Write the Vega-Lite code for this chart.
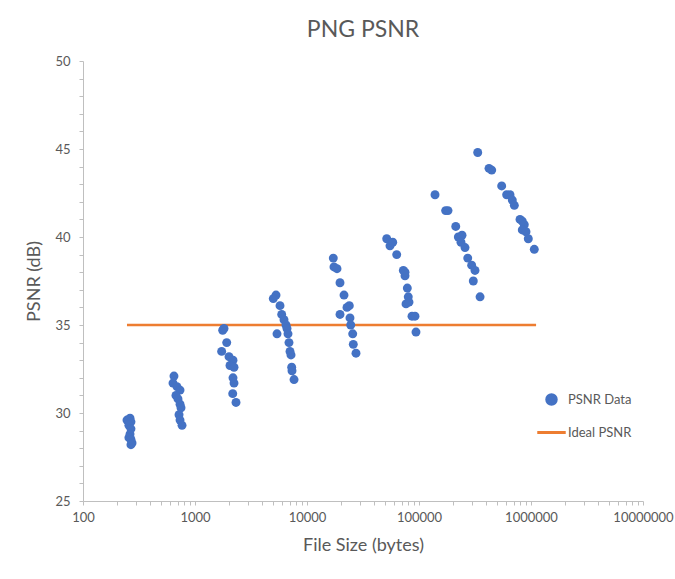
{
  "$schema": "https://vega.github.io/schema/vega-lite/v6.json",
  "autosize": "none",
  "width": 560,
  "height": 440,
  "padding": {"left": 83, "top": 61, "right": 32, "bottom": 78},
  "background": "white",
  "title": {"text": "PNG PSNR", "fontSize": 23, "font": "Lato", "fontWeight": "normal", "color": "#595959", "anchor": "middle", "offset": 13},
  "config": {
    "view": {"stroke": null},
    "axis": {"grid": false, "domainColor": "#bfbfbf", "tickColor": "#bfbfbf", "labelColor": "#595959", "titleColor": "#595959", "labelFont": "Lato", "titleFont": "Lato", "labelFontSize": 13, "titleFontSize": 18, "titleFontWeight": "normal", "tickSize": 4, "labelOverlap": false}
  },
  "datasets": {
    "pts": [
      {"size": 247, "psnr": 29.6, "series": "PSNR Data"},
      {"size": 263, "psnr": 29.7, "series": "PSNR Data"},
      {"size": 268, "psnr": 29.5, "series": "PSNR Data"},
      {"size": 257, "psnr": 29.3, "series": "PSNR Data"},
      {"size": 268, "psnr": 29.1, "series": "PSNR Data"},
      {"size": 263, "psnr": 28.8, "series": "PSNR Data"},
      {"size": 257, "psnr": 28.6, "series": "PSNR Data"},
      {"size": 268, "psnr": 28.5, "series": "PSNR Data"},
      {"size": 274, "psnr": 28.3, "series": "PSNR Data"},
      {"size": 268, "psnr": 28.2, "series": "PSNR Data"},
      {"size": 649, "psnr": 32.1, "series": "PSNR Data"},
      {"size": 636, "psnr": 31.7, "series": "PSNR Data"},
      {"size": 690, "psnr": 31.5, "series": "PSNR Data"},
      {"size": 735, "psnr": 31.3, "series": "PSNR Data"},
      {"size": 676, "psnr": 31.0, "series": "PSNR Data"},
      {"size": 705, "psnr": 30.8, "series": "PSNR Data"},
      {"size": 735, "psnr": 30.5, "series": "PSNR Data"},
      {"size": 750, "psnr": 30.3, "series": "PSNR Data"},
      {"size": 720, "psnr": 29.9, "series": "PSNR Data"},
      {"size": 735, "psnr": 29.6, "series": "PSNR Data"},
      {"size": 766, "psnr": 29.3, "series": "PSNR Data"},
      {"size": 1767, "psnr": 34.7, "series": "PSNR Data"},
      {"size": 1815, "psnr": 34.8, "series": "PSNR Data"},
      {"size": 1919, "psnr": 34.0, "series": "PSNR Data"},
      {"size": 1730, "psnr": 33.5, "series": "PSNR Data"},
      {"size": 2012, "psnr": 33.2, "series": "PSNR Data"},
      {"size": 2184, "psnr": 33.0, "series": "PSNR Data"},
      {"size": 2053, "psnr": 32.7, "series": "PSNR Data"},
      {"size": 2230, "psnr": 32.6, "series": "PSNR Data"},
      {"size": 2184, "psnr": 32.0, "series": "PSNR Data"},
      {"size": 2230, "psnr": 31.7, "series": "PSNR Data"},
      {"size": 2172, "psnr": 31.1, "series": "PSNR Data"},
      {"size": 2323, "psnr": 30.6, "series": "PSNR Data"},
      {"size": 5290, "psnr": 36.7, "series": "PSNR Data"},
      {"size": 5000, "psnr": 36.5, "series": "PSNR Data"},
      {"size": 5740, "psnr": 36.1, "series": "PSNR Data"},
      {"size": 5945, "psnr": 35.6, "series": "PSNR Data"},
      {"size": 6233, "psnr": 35.3, "series": "PSNR Data"},
      {"size": 6493, "psnr": 35.0, "series": "PSNR Data"},
      {"size": 6628, "psnr": 34.8, "series": "PSNR Data"},
      {"size": 5397, "psnr": 34.5, "series": "PSNR Data"},
      {"size": 6765, "psnr": 34.5, "series": "PSNR Data"},
      {"size": 6905, "psnr": 34.0, "series": "PSNR Data"},
      {"size": 7050, "psnr": 33.5, "series": "PSNR Data"},
      {"size": 7197, "psnr": 33.3, "series": "PSNR Data"},
      {"size": 7300, "psnr": 32.6, "series": "PSNR Data"},
      {"size": 7347, "psnr": 32.4, "series": "PSNR Data"},
      {"size": 7660, "psnr": 31.9, "series": "PSNR Data"},
      {"size": 17170, "psnr": 38.8, "series": "PSNR Data"},
      {"size": 17410, "psnr": 38.3, "series": "PSNR Data"},
      {"size": 18530, "psnr": 38.2, "series": "PSNR Data"},
      {"size": 19710, "psnr": 37.4, "series": "PSNR Data"},
      {"size": 21400, "psnr": 36.7, "series": "PSNR Data"},
      {"size": 23860, "psnr": 36.1, "series": "PSNR Data"},
      {"size": 22750, "psnr": 36.0, "series": "PSNR Data"},
      {"size": 19710, "psnr": 35.6, "series": "PSNR Data"},
      {"size": 24200, "psnr": 35.4, "series": "PSNR Data"},
      {"size": 24560, "psnr": 35.0, "series": "PSNR Data"},
      {"size": 25590, "psnr": 34.5, "series": "PSNR Data"},
      {"size": 25900, "psnr": 33.9, "series": "PSNR Data"},
      {"size": 27380, "psnr": 33.4, "series": "PSNR Data"},
      {"size": 51500, "psnr": 39.9, "series": "PSNR Data"},
      {"size": 55070, "psnr": 39.5, "series": "PSNR Data"},
      {"size": 58250, "psnr": 39.7, "series": "PSNR Data"},
      {"size": 63230, "psnr": 39.0, "series": "PSNR Data"},
      {"size": 72450, "psnr": 38.1, "series": "PSNR Data"},
      {"size": 74990, "psnr": 37.8, "series": "PSNR Data"},
      {"size": 74990, "psnr": 38.0, "series": "PSNR Data"},
      {"size": 78660, "psnr": 37.1, "series": "PSNR Data"},
      {"size": 80200, "psnr": 36.6, "series": "PSNR Data"},
      {"size": 76560, "psnr": 36.2, "series": "PSNR Data"},
      {"size": 81420, "psnr": 36.3, "series": "PSNR Data"},
      {"size": 86600, "psnr": 35.5, "series": "PSNR Data"},
      {"size": 92090, "psnr": 35.5, "series": "PSNR Data"},
      {"size": 93970, "psnr": 34.6, "series": "PSNR Data"},
      {"size": 139000, "psnr": 42.4, "series": "PSNR Data"},
      {"size": 172900, "psnr": 41.5, "series": "PSNR Data"},
      {"size": 181500, "psnr": 41.5, "series": "PSNR Data"},
      {"size": 212800, "psnr": 40.6, "series": "PSNR Data"},
      {"size": 224500, "psnr": 40.0, "series": "PSNR Data"},
      {"size": 242100, "psnr": 40.1, "series": "PSNR Data"},
      {"size": 237100, "psnr": 39.7, "series": "PSNR Data"},
      {"size": 257500, "psnr": 39.4, "series": "PSNR Data"},
      {"size": 272300, "psnr": 38.8, "series": "PSNR Data"},
      {"size": 295300, "psnr": 38.4, "series": "PSNR Data"},
      {"size": 316200, "psnr": 38.1, "series": "PSNR Data"},
      {"size": 305400, "psnr": 37.5, "series": "PSNR Data"},
      {"size": 350900, "psnr": 36.6, "series": "PSNR Data"},
      {"size": 334400, "psnr": 44.8, "series": "PSNR Data"},
      {"size": 421700, "psnr": 43.9, "series": "PSNR Data"},
      {"size": 445800, "psnr": 43.8, "series": "PSNR Data"},
      {"size": 547400, "psnr": 42.9, "series": "PSNR Data"},
      {"size": 606400, "psnr": 42.4, "series": "PSNR Data"},
      {"size": 649400, "psnr": 42.4, "series": "PSNR Data"},
      {"size": 680800, "psnr": 42.1, "series": "PSNR Data"},
      {"size": 709900, "psnr": 41.8, "series": "PSNR Data"},
      {"size": 797500, "psnr": 41.0, "series": "PSNR Data"},
      {"size": 836100, "psnr": 40.9, "series": "PSNR Data"},
      {"size": 871000, "psnr": 40.7, "series": "PSNR Data"},
      {"size": 836100, "psnr": 40.4, "series": "PSNR Data"},
      {"size": 902500, "psnr": 40.3, "series": "PSNR Data"},
      {"size": 946000, "psnr": 39.9, "series": "PSNR Data"},
      {"size": 1070000, "psnr": 39.3, "series": "PSNR Data"}
    ],
    "ideal": [
      {"size": 247, "psnr": 35, "series": "Ideal PSNR"},
      {"size": 1110000, "psnr": 35, "series": "Ideal PSNR"}
    ]
  },
  "encoding": {
    "x": {
      "field": "size", "type": "quantitative",
      "scale": {"type": "log", "domain": [100, 10000000], "nice": false},
      "axis": {
        "title": "File Size (bytes)",
        "values": [100,200,300,400,500,600,700,800,900,1000,2000,3000,4000,5000,6000,7000,8000,9000,10000,20000,30000,40000,50000,60000,70000,80000,90000,100000,200000,300000,400000,500000,600000,700000,800000,900000,1000000,2000000,3000000,4000000,5000000,6000000,7000000,8000000,9000000,10000000],
        "labelExpr": "indexof(['100','1000','10000','100000','1000000','10000000'], toString(datum.value)) >= 0 ? toString(datum.value) : ''",
        "labelPadding": 6,
        "titlePadding": 12,
        "labelFlush": false,
        "labelOverlap": false
      }
    },
    "y": {
      "field": "psnr", "type": "quantitative",
      "scale": {"domain": [25, 50], "nice": false, "zero": false},
      "axis": {
        "title": "PSNR (dB)",
        "values": [25,26,27,28,29,30,31,32,33,34,35,36,37,38,39,40,41,42,43,44,45,46,47,48,49,50],
        "labelExpr": "datum.value % 5 == 0 ? toString(datum.value) : ''",
        "labelPadding": 9,
        "titlePadding": 11,
        "labelOverlap": false,
        "labelFlush": false,
        "labelBound": false
      }
    },
    "color": {"field": "series", "type": "nominal", "scale": {"domain": ["PSNR Data", "Ideal PSNR"], "range": ["#4472C4", "#ED7D31"]},
      "legend": {
        "title": null, "orient": "none", "legendX": 462, "legendY": 332,
        "labelFont": "Lato", "labelFontSize": 13, "labelColor": "#595959",
        "rowPadding": 15, "labelOffset": 10, "symbolSize": 90,
        "encode": {"symbols": {"update": {"stroke": {"scale": "color", "field": "value"}, "strokeWidth": {"value": 3}}}}
      }
    }
  },
  "layer": [
    {
      "data": {"name": "ideal"},
      "mark": {"type": "line", "strokeWidth": 2.5}
    },
    {
      "data": {"name": "pts"},
      "mark": {"type": "point", "filled": true, "opacity": 1, "size": 80},
      "encoding": {
        "shape": {"field": "series", "type": "nominal", "scale": {"domain": ["PSNR Data", "Ideal PSNR"], "range": ["circle", "M-3,0H3"]}}
      }
    }
  ]
}
